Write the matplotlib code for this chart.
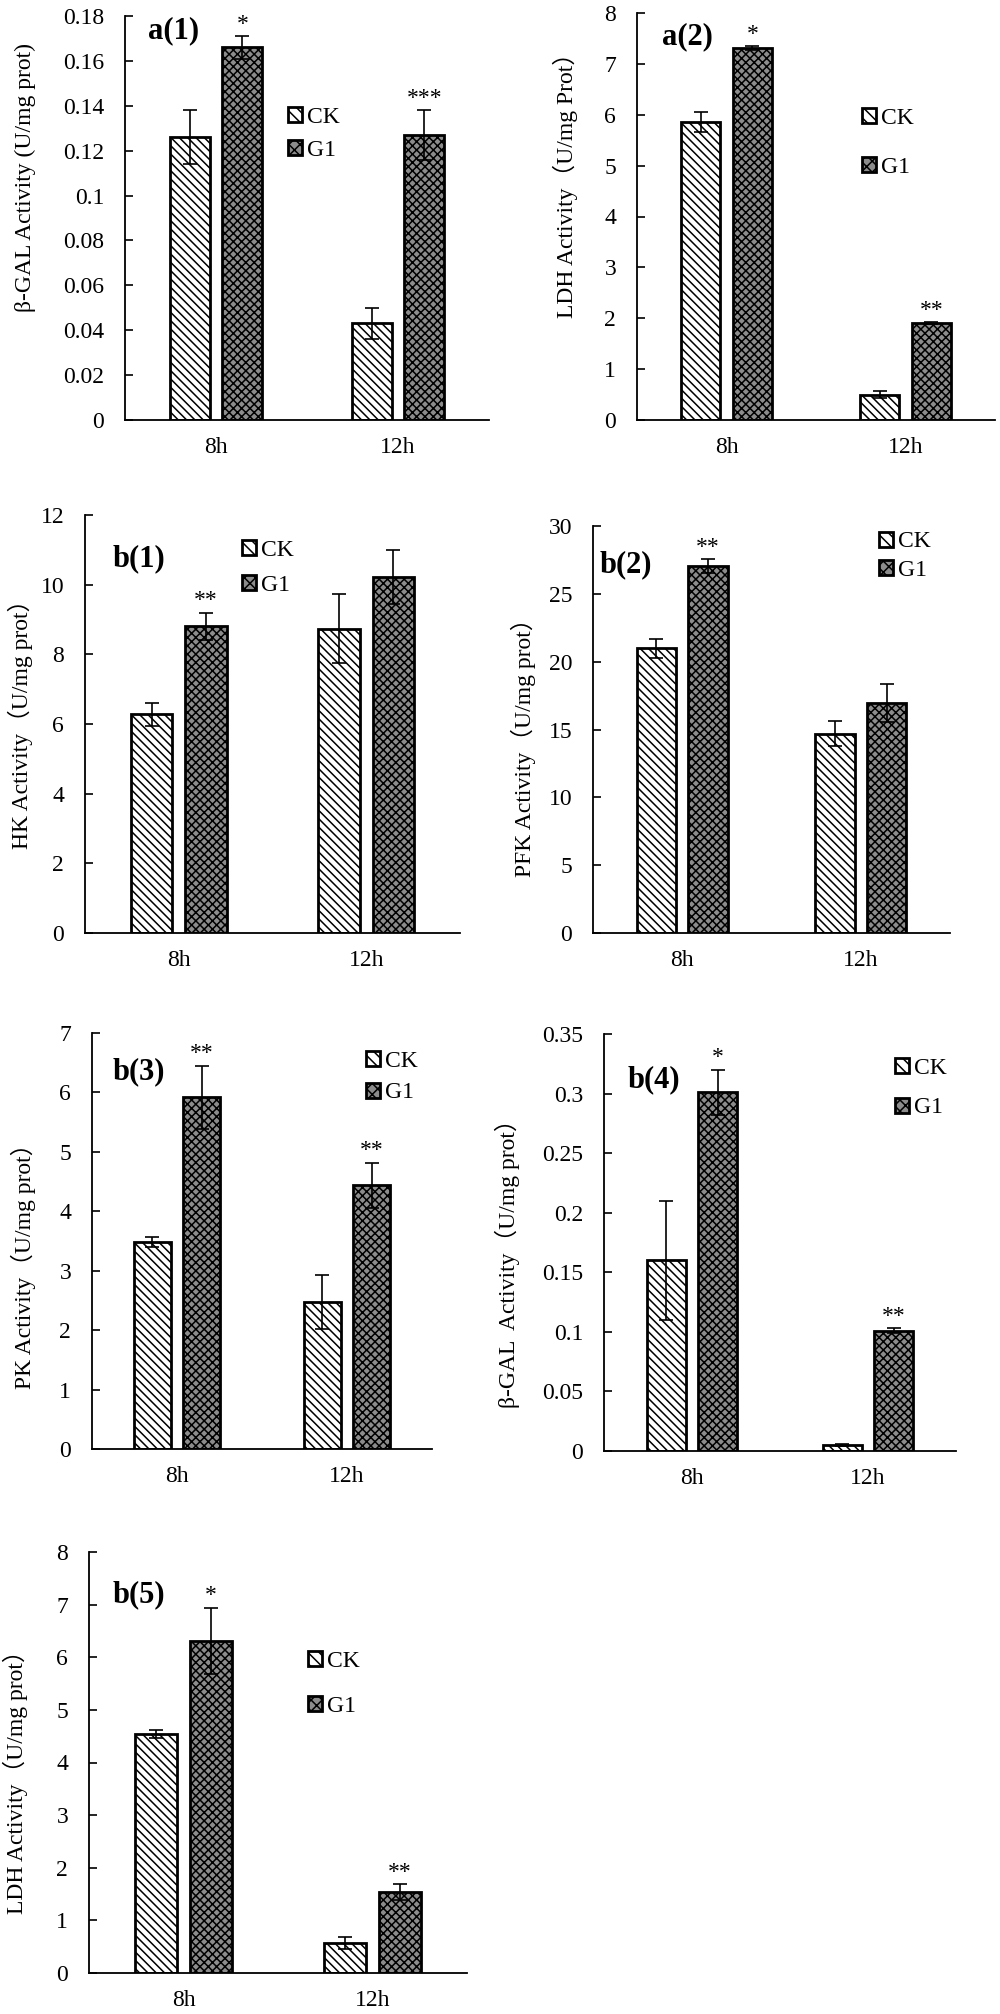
import numpy as np
import matplotlib
matplotlib.use('Agg')
import matplotlib.pyplot as plt
from matplotlib.patches import Patch
from matplotlib.ticker import FuncFormatter

plt.rcParams['font.family'] = ['Liberation Serif', 'Noto Sans CJK SC']
plt.rcParams['hatch.linewidth'] = 1.1

categories = ['8h', '12h']

# a(1) beta-GAL
a1_ck = [0.126, 0.043]
a1_ck_err = [0.012, 0.007]
a1_g1 = [0.166, 0.127]
a1_g1_err = [0.005, 0.011]
a1_sig = ['*', '***']

# a(2) LDH
a2_ck = [5.86, 0.50]
a2_ck_err = [0.19, 0.07]
a2_g1 = [7.31, 1.90]
a2_g1_err = [0.04, 0.02]
a2_sig = ['*', '**']

# b(1) HK
b1_ck = [6.28, 8.74]
b1_ck_err = [0.33, 0.98]
b1_g1 = [8.80, 10.22]
b1_g1_err = [0.40, 0.78]
b1_sig = ['**', '']

# b(2) PFK
b2_ck = [21.0, 14.7]
b2_ck_err = [0.7, 0.9]
b2_g1 = [27.05, 16.95]
b2_g1_err = [0.5, 1.4]
b2_sig = ['**', '']

# b(3) PK
b3_ck = [3.48, 2.47]
b3_ck_err = [0.08, 0.45]
b3_g1 = [5.92, 4.44]
b3_g1_err = [0.53, 0.38]
b3_sig = ['**', '**']

# b(4) beta-GAL
b4_ck = [0.160, 0.005]
b4_ck_err = [0.050, 0.001]
b4_g1 = [0.301, 0.101]
b4_g1_err = [0.019, 0.002]
b4_sig = ['*', '**']

# b(5) LDH
b5_ck = [4.54, 0.57]
b5_ck_err = [0.07, 0.11]
b5_g1 = [6.31, 1.54]
b5_g1_err = [0.63, 0.15]
b5_sig = ['*', '**']

W, H = 1000, 2014
fig = plt.figure(figsize=(W / 100, H / 100), dpi=100)


def fx(px):
    return px / W


def fy(py):
    return 1 - py / H


# name, data, ymax, step, ylabel, axes box (px), ylabel pos, panel label pos, legend pos, legend spacing
panels = [
    ('a(1)', a1_ck, a1_ck_err, a1_g1, a1_g1_err, a1_sig, 0.18, 0.02,
     'β-GAL Activity (U/mg prot)', (125, 16, 489, 420), (25, 178), (148, 31), (288, 134), 0.5),
    ('a(2)', a2_ck, a2_ck_err, a2_g1, a2_g1_err, a2_sig, 8, 1,
     'LDH Activity（U/mg Prot）', (637, 13, 995, 420), (565, 180), (662, 37), (862, 143), 1.2),
    ('b(1)', b1_ck, b1_ck_err, b1_g1, b1_g1_err, b1_sig, 12, 2,
     'HK Activity（U/mg prot）', (85, 515, 460, 933), (20, 718), (113, 559), (242, 568), 0.6),
    ('b(2)', b2_ck, b2_ck_err, b2_g1, b2_g1_err, b2_sig, 30, 5,
     'PFK Activity（U/mg prot）', (593, 526, 950, 933), (523, 742), (600, 565), (879, 556), 0.3),
    ('b(3)', b3_ck, b3_ck_err, b3_g1, b3_g1_err, b3_sig, 7, 1,
     'PK Activity（U/mg prot）', (92, 1033, 432, 1449), (23, 1260), (113, 1072), (366, 1077), 0.46),
    ('b(4)', b4_ck, b4_ck_err, b4_g1, b4_g1_err, b4_sig, 0.35, 0.05,
     'β-GAL  Activity（U/mg prot）', (604, 1034, 956, 1451), (507, 1258), (628, 1080), (895, 1088), 0.8),
    ('b(5)', b5_ck, b5_ck_err, b5_g1, b5_g1_err, b5_sig, 8, 1,
     'LDH Activity（U/mg prot）', (89, 1552, 467, 1973), (15, 1776), (113, 1595), (308, 1684), 1.0),
]

ck_hatch = '\\\\\\\\'
g1_hatch = 'xxxx'
g1_face = '#8c8c8c'
x = np.arange(len(categories))
off = 0.145
bw = 0.22
err_style = dict(ecolor='black', elinewidth=1.2, capsize=5, capthick=1.2)

for (name, ck, ck_err, g1, g1_err, sig, ymax, step, ylab,
     box, ylab_pos, name_pos, leg_pos, leg_sp) in panels:
    l, t, r, b = box
    ax = fig.add_axes([fx(l), fy(b), fx(r - l), (b - t) / H])

    ax.bar(x - off, ck, bw, yerr=ck_err, color='white', edgecolor='black',
           hatch=ck_hatch, linewidth=2, error_kw=err_style)
    ax.bar(x + off, g1, bw, yerr=g1_err, color=g1_face, edgecolor='black',
           hatch=g1_hatch, linewidth=2, error_kw=err_style)

    for i, s in enumerate(sig):
        if s:
            ax.annotate(s, (x[i] + off, g1[i] + g1_err[i]), xytext=(0, 1),
                        textcoords='offset points', ha='center', va='bottom',
                        fontsize=17)

    ax.set_xlim(-0.5, 1.5)
    ax.set_ylim(0, ymax)
    ax.set_yticks(np.arange(0, ymax + step / 2, step))
    ax.yaxis.set_major_formatter(FuncFormatter(lambda v, p: f'{v:g}'))
    ax.set_xticks(x, categories)
    ax.tick_params(axis='x', length=0, pad=12, labelsize=17)
    ax.tick_params(axis='y', direction='in', length=6, width=1.2, pad=15, labelsize=17)
    for side in ['top', 'right']:
        ax.spines[side].set_visible(False)
    for side in ['left', 'bottom']:
        ax.spines[side].set_linewidth(1.3)

    handles = [Patch(facecolor='white', edgecolor='black', hatch='\\\\\\', linewidth=2, label='CK'),
               Patch(facecolor=g1_face, edgecolor='black', hatch='xxx', linewidth=2, label='G1')]
    ax.legend(handles=handles, loc='center left',
              bbox_to_anchor=(fx(leg_pos[0]), fy(leg_pos[1])), bbox_transform=fig.transFigure,
              frameon=False, fontsize=17, handlelength=0.6, handleheight=0.6,
              handletextpad=0.2, labelspacing=leg_sp, borderpad=0, borderaxespad=0)

    fig.text(fx(ylab_pos[0]), fy(ylab_pos[1]), ylab, rotation=90, ha='center', va='center',
             fontsize=17)
    fig.text(fx(name_pos[0]), fy(name_pos[1]), name, ha='left', va='center',
             fontsize=22, fontweight='bold')

fig.savefig('out.png', dpi=100, facecolor='white')
